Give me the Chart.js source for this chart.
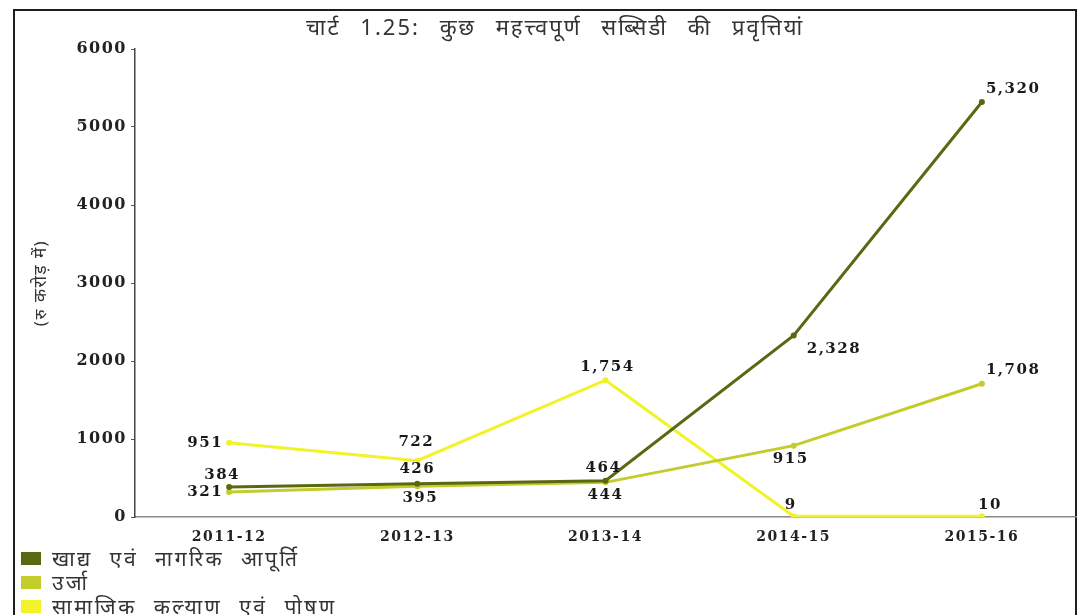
<!DOCTYPE html>
<html><head><meta charset="utf-8">
<script src="https://cdn.jsdelivr.net/npm/chart.js@4/dist/chart.umd.min.js"></script>
<style>
html,body{margin:0;padding:0;background:#fff;overflow:hidden;}
#wrap{position:relative;width:1085px;height:615px;}
#frame{position:absolute;left:13px;top:9px;width:1060px;height:700px;border:2px solid #1e1e1e;}
canvas{position:absolute;left:0;top:0;}
#title{position:absolute;left:0;width:1110px;top:11px;text-align:center;font:22px "Noto Sans",sans-serif;letter-spacing:2px;word-spacing:12px;color:#333;}
#legend{position:absolute;left:21px;top:546px;font:21px "Noto Sans",sans-serif;letter-spacing:2.5px;word-spacing:9px;color:#333;}
.li{height:24px;display:flex;align-items:center;}
.bx{width:20px;height:13px;margin-right:11px;}
</style></head>
<body><div id="wrap"><div id="frame"></div><canvas id="c" width="1085" height="615"></canvas>
<div id="title">चार्ट 1.25: कुछ महत्त्वपूर्ण सब्सिडी की प्रवृत्तियां</div>
<div id="legend"></div></div>
<script>
const categories = ['2011-12','2012-13','2013-14','2014-15','2015-16'];
const seriesNames = ['खाद्य एवं नागरिक आपूर्ति','उर्जा','सामाजिक कल्याण एवं पोषण'];
const foodSupply = [384,426,464,2328,5320];
const energy = [321,395,444,915,1708];
const socialWelfare = [951,722,1754,9,10];
const yTickValues = [0,1000,2000,3000,4000,5000,6000];
const yAxisTitle = '(रु करोड़ में)';

const colors = ['#5b6812','#c3cc2a','#f2f22a'];
// label placement per dataset per point: [dx, dy, align]
const labelPlace = [
  [[-7,-12,'center'],[0,-15,'center'],[-2,-13,'center'],[13,14,'left'],[4,-13,'left']],
  [[-6,0,'right'],[3,12,'center'],[0,13,'center'],[-3,13,'center'],[4,-14,'left']],
  [[-6,0,'right'],[-1,-19,'center'],[2,-13,'center'],[-3,-11,'center'],[8,-11,'center']]
];

const legendEl = document.getElementById('legend');
seriesNames.forEach((n,i)=>{
  const d=document.createElement('div');d.className='li';
  d.innerHTML='<span class="bx" style="background:'+colors[i]+'"></span><span>'+n+'</span>';
  legendEl.appendChild(d);
});

const spacing = {id:'spacing',beforeDraw(chart){chart.ctx.letterSpacing='1.5px';}};
const dataLabels = {
  id:'dataLabels',
  afterDatasetsDraw(chart){
    const ctx=chart.ctx;ctx.save();
    ctx.letterSpacing='1.5px';
    ctx.font='bold 15px "DejaVu Serif"';ctx.fillStyle='#1a1a1a';ctx.textBaseline='middle';
    chart.data.datasets.forEach((ds,di)=>{
      const meta=chart.getDatasetMeta(di);
      meta.data.forEach((pt,i)=>{
        const p=labelPlace[di][i];
        ctx.textAlign=p[2];
        ctx.fillText(ds.data[i].toLocaleString('en-US'),pt.x+p[0],pt.y+p[1]);
      });
    });
    ctx.restore();
  }
};

const mk=(label,data,c)=>({label,data,borderColor:c,backgroundColor:c,borderWidth:3,pointRadius:3,pointBackgroundColor:c,pointBorderWidth:0,tension:0});

new Chart(document.getElementById('c'),{
  type:'line',
  data:{labels:categories,datasets:[
    mk(seriesNames[2],socialWelfare,colors[2]),
    mk(seriesNames[1],energy,colors[1]),
    mk(seriesNames[0],foodSupply,colors[0])
  ].reverse()},
  options:{
    responsive:false,animation:false,
    layout:{padding:{top:49,right:9,left:0,bottom:0}},
    plugins:{legend:{display:false},title:{display:false},tooltip:{enabled:false}},
    scales:{
      x:{offset:true,grid:{display:false},border:{display:true,color:'#8a8a8a',width:1.5},
         ticks:{font:{family:'DejaVu Serif',weight:'bold',size:14},color:'#222',padding:4},
         afterFit(s){s.height=98;}},
      y:{min:0,max:6000,
         afterBuildTicks(s){s.ticks=yTickValues.map(v=>({value:v}));},
         grid:{drawOnChartArea:false,tickLength:4,color:'#555'},
         border:{display:true,color:'#444',width:1.5},
         ticks:{font:{family:'DejaVu Serif',weight:'bold',size:16},color:'#222',padding:4,callback:v=>String(v)},
         title:{display:true,text:yAxisTitle,font:{family:'Noto Sans',size:17},color:'#333',padding:{top:31,bottom:0}},
         afterFit(s){s.width=135;}}
    }
  },
  plugins:[spacing,dataLabels]
});
</script></body></html>
